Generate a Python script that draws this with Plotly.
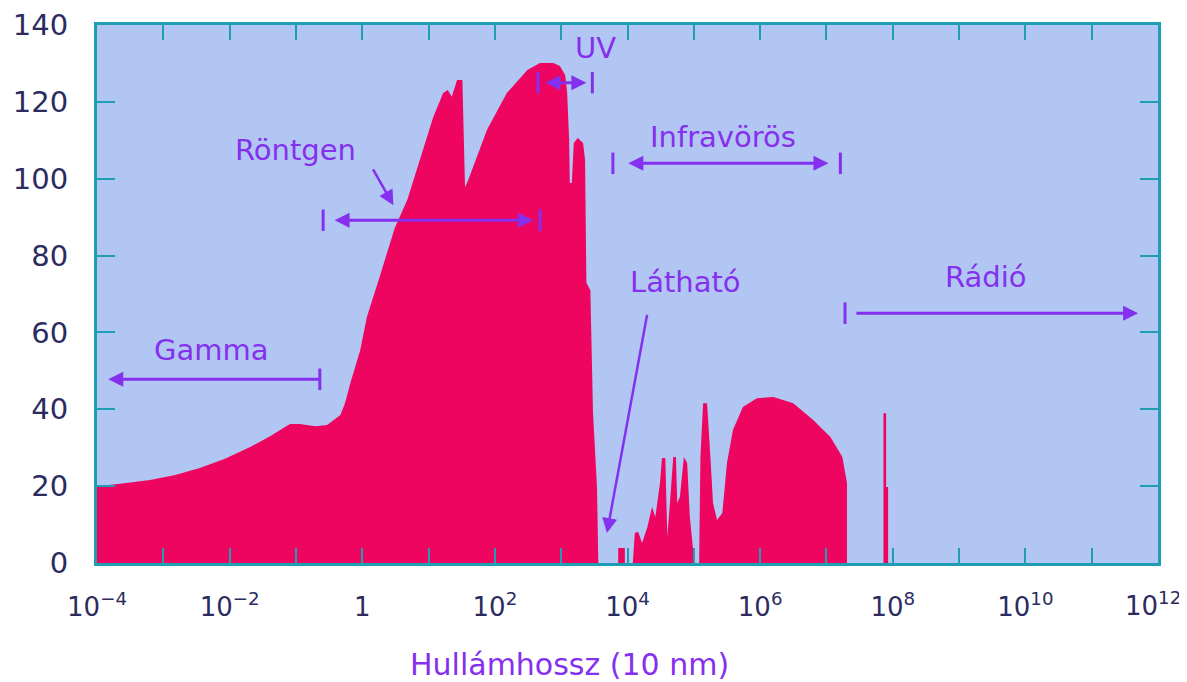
import numpy as np
import plotly.graph_objects as go

# Atmospheric opacity spectrum: log10(wavelength in 10 nm) vs altitude-like value
log_wavelength = [
    -4.00, -3.65, -3.20, -2.82, -2.45, -2.07, -1.69, -1.39, -1.19, -1.09, -0.94, -0.71,
    -0.53, -0.41, -0.33, -0.26, -0.18, -0.03, 0.07, 0.27, 0.49, 0.68, 0.87, 1.07, 1.22,
    1.29, 1.35, 1.43, 1.51, 1.55, 1.60, 1.67, 1.88, 2.18, 2.49, 2.68, 2.88, 2.98, 3.06,
    3.09, 3.12, 3.13, 3.16, 3.19, 3.25, 3.33, 3.36, 3.38, 3.44, 3.48, 3.54, 3.56,
    3.86, 3.86, 3.96, 3.96,
    4.08, 4.11, 4.16, 4.22, 4.30, 4.37, 4.42, 4.49, 4.52, 4.57, 4.60, 4.64, 4.69, 4.73,
    4.75, 4.79, 4.85, 4.90, 4.94, 4.99, 5.02,
    5.08, 5.10, 5.14, 5.20, 5.25, 5.29, 5.35, 5.43, 5.50, 5.59, 5.74, 5.95, 6.20, 6.50,
    6.80, 7.06, 7.24, 7.31, 7.31,
    7.86, 7.86, 7.90, 7.90, 7.93, 7.93,
]
absorption = [
    20.0, 20.6, 21.6, 22.9, 24.7, 27.1, 30.2, 33.0, 35.1, 36.2, 36.2, 35.6,
    35.9, 37.5, 38.5, 41.6, 46.8, 55.4, 64.0, 74.9, 87.2, 94.5, 104.9, 116.0, 122.3,
    123.1, 121.3, 125.7, 125.7, 97.8, 99.7, 103.0, 112.7, 122.3, 128.3, 130.1, 130.1, 129.3, 127.0,
    122.3, 110.1, 98.9, 98.9, 109.3, 110.6, 109.3, 104.9, 72.9, 71.0, 39.0, 19.8, 0.0,
    0.0, 3.9, 3.9, 0.0,
    0.0, 7.8, 8.1, 5.2, 9.4, 14.6, 12.0, 20.8, 27.3, 27.3, 6.8, 15.6, 27.6, 27.6,
    15.6, 17.2, 27.6, 26.0, 12.0, 3.4, 0.0,
    0.0, 27.6, 41.6, 41.6, 27.6, 15.6, 11.2, 13.0, 26.0, 34.6, 40.6, 42.9, 43.2, 41.6,
    37.2, 32.8, 27.6, 20.8, 0.0,
    0.0, 39.0, 39.0, 19.8, 19.8, 0.0,
]

# Tick values / labels (the last label is drawn separately so it is not clipped at the edge)
x_tick_exponents = list(range(-4, 13))
x_tick_labels = ["10<sup>−4</sup>", "", "10<sup>−2</sup>", "", "1", "", "10<sup>2</sup>", "",
                 "10<sup>4</sup>", "", "10<sup>6</sup>", "", "10<sup>8</sup>", "",
                 "10<sup>10</sup>", "", ""]
last_tick_label = "10<sup>12</sup>"
y_ticks = [0, 20, 40, 60, 80, 100, 120, 140]
x_title = "Hullámhossz (10 nm)"

# Band labels: name, label position (log10 x, y)
band_names = ["Gamma", "Röntgen", "UV", "Infravörös", "Látható", "Rádió"]
band_label_x = [-2.27, -1.0, 3.51, 5.44, 4.87, 9.41]
band_label_y = [55.4, 107.5, 134.0, 110.8, 73.1, 74.4]

# Band range arrows: y level, left bar, right bar, arrow start, arrow end, arrow sides (log10 x)
range_y = [47.8, 89.2, 125.0, 104.0, 65.0]
range_bar_left = [None, -0.59, 2.65, 3.78, 7.28]
range_bar_right = [-0.64, 2.68, 3.47, 7.21, None]
range_tail = [-0.60, -0.44, 2.74, 3.99, 7.43]
range_tip = [-3.83, 2.58, 3.38, 7.03, 11.70]
range_side = ["end", "end+start", "end+start", "end+start", "end"]

# Pointer arrows (from label to band): tail (log10 x, y) -> tip (log10 x, y)
pointer_tail = [(0.15, 102.8), (4.30, 65.0)]
pointer_tip = [(0.47, 93.1), (3.69, 7.8)]

RED = "#ee0560"
BG = "#b2c6f3"
AXIS = "#1f9db2"
NAVY = "#2b2b60"
PURPLE = "#8530ee"
FONT = "DejaVu Sans, Verdana, Arial"

x_vals = np.power(10.0, np.array(log_wavelength))

fig = go.Figure()
fig.add_trace(go.Scatter(
    x=x_vals, y=absorption, mode="lines", fill="tozeroy",
    fillcolor=RED, line=dict(color=RED, width=0), hoverinfo="skip", showlegend=False,
))

annotations = []
for name, lx, ly in zip(band_names, band_label_x, band_label_y):
    annotations.append(dict(x=lx, y=ly, xref="x", yref="y", text=name, showarrow=False,
                            font=dict(family=FONT, size=29, color=PURPLE)))

# x-axis title (sits left of centre in the reference)
annotations.append(dict(x=0.445, y=-0.188, xref="paper", yref="paper", text=x_title,
                        showarrow=False, xanchor="center", yanchor="middle",
                        font=dict(family=FONT, size=30, color=PURPLE)))

# last x tick label, right-aligned just inside the figure edge
annotations.append(dict(x=1.0236, y=-0.0762, xref="paper", yref="paper", text=last_tick_label,
                        showarrow=False, xanchor="right", yanchor="middle",
                        font=dict(family=FONT, size=26, color=NAVY)))

shapes = []
bar_half = 2.8
for yv, bl, br, tail, tip, side in zip(range_y, range_bar_left, range_bar_right,
                                       range_tail, range_tip, range_side):
    annotations.append(dict(x=tip, y=yv, ax=tail, ay=yv, xref="x", yref="y",
                            axref="x", ayref="y", text="", showarrow=True,
                            arrowhead=2, arrowsize=1.0, arrowwidth=3, arrowcolor=PURPLE,
                            arrowside=side, standoff=0, startstandoff=0))
    for b in (bl, br):
        if b is not None:
            bx = 10.0 ** b
            shapes.append(dict(type="line", xref="x", yref="y", x0=bx, x1=bx,
                               y0=yv - bar_half, y1=yv + bar_half,
                               line=dict(color=PURPLE, width=3)))

for (tx, ty), (hx, hy) in zip(pointer_tail, pointer_tip):
    annotations.append(dict(x=hx, y=hy, ax=tx, ay=ty, xref="x", yref="y",
                            axref="x", ayref="y", text="", showarrow=True,
                            arrowhead=2, arrowsize=1.2, arrowwidth=2.5, arrowcolor=PURPLE,
                            standoff=0))

# The page body has an 8px margin, so the figure is sized/offset to compensate.
fig.update_layout(
    width=1179, height=674,
    margin=dict(l=89, r=29, t=17, b=119),
    paper_bgcolor="white", plot_bgcolor=BG,
    font=dict(family=FONT, color=NAVY),
    annotations=annotations, shapes=shapes,
    xaxis=dict(
        type="log", range=[-4, 12], automargin=False,
        tickvals=[10.0 ** e for e in x_tick_exponents], ticktext=x_tick_labels,
        ticks="inside", ticklen=15, tickwidth=2, tickcolor=AXIS,
        showline=True, linecolor=AXIS, linewidth=3, mirror="ticks",
        showgrid=False, zeroline=False, ticklabeloverflow="allow",
        tickfont=dict(size=26, color=NAVY), ticklabelstandoff=19,
    ),
    yaxis=dict(
        range=[0, 140], tickvals=y_ticks, automargin=False,
        ticks="inside", ticklen=18, tickwidth=2, tickcolor=AXIS,
        showline=True, linecolor=AXIS, linewidth=3, mirror="ticks",
        showgrid=False, zeroline=False,
        tickfont=dict(size=29, color=NAVY),
        ticklabelstandoff=20,
    ),
)

fig.write_html("out.html")
